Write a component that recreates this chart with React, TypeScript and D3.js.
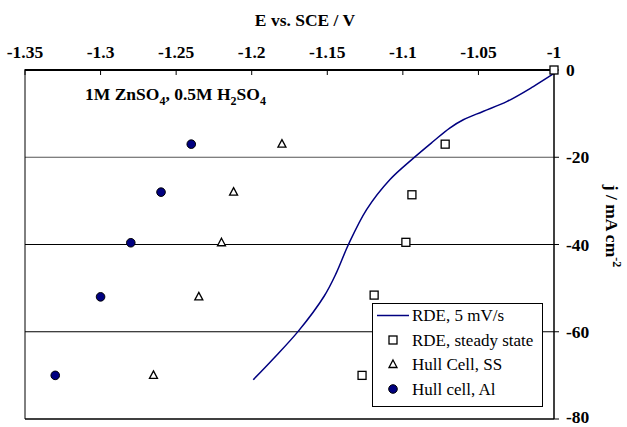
import React from 'react';
import * as d3 from 'd3';

// top axis E (V), right axis j (mA/cm2)
const xTicks = [-1.35, -1.3, -1.25, -1.2, -1.15, -1.1, -1.05, -1];
const yTicks = [0, -20, -40, -60, -80];
const gridLines = [-20, -40, -60];

// RDE sweep at 5 mV/s
const rdeSweep: [number, number][] = [
  [-1.199, -71], [-1.186, -66.3], [-1.169, -59.8], [-1.152, -51.8], [-1.144, -46.5],
  [-1.136, -40], [-1.124, -32], [-1.1085, -25.1], [-1.093, -20.2], [-1.08, -16.4],
  [-1.069, -13.3], [-1.06, -11.4], [-1.047, -9.5], [-1.031, -7.2], [-1.0137, -3.8], [-1.0, -0.8],
];
// RDE steady state
const rdeSteady: [number, number][] = [
  [-1.0, 0], [-1.072, -17], [-1.094, -28.6], [-1.098, -39.5], [-1.119, -51.6], [-1.127, -70],
];
// Hull cell, stainless steel
const hullSS: [number, number][] = [
  [-1.18, -17], [-1.212, -28], [-1.22, -39.6], [-1.235, -52], [-1.265, -70],
];
// Hull cell, aluminium
const hullAl: [number, number][] = [
  [-1.24, -17], [-1.26, -28], [-1.28, -39.6], [-1.3, -52], [-1.33, -70],
];

const legendItems = ['RDE, 5 mV/s', 'RDE, steady state', 'Hull Cell, SS', 'Hull cell, Al'];

const W = 627, H = 427;
const left = 25, right = 554, top = 70, bottom = 419;
const navy = '#000080';
const serif = 'Liberation Serif';
const fs = 17.5;

const Square = ({ x, y }: { x: number; y: number }) =>
  <rect x={x - 4} y={y - 4} width={8} height={8} fill="white" stroke="black" strokeWidth={1.3} />;
const Triangle = ({ x, y }: { x: number; y: number }) =>
  <path d={`M${x},${y - 4.5}L${x + 4},${y + 3}L${x - 4},${y + 3}Z`} fill="white" stroke="black" strokeWidth={1.3} />;
const Dot = ({ x, y }: { x: number; y: number }) =>
  <circle cx={x} cy={y} r={4.3} fill={navy} stroke="black" strokeWidth={1} />;

export default function App() {
  const x = d3.scaleLinear().domain([-1.35, -1]).range([left, right]);
  const y = d3.scaleLinear().domain([-80, 0]).range([bottom, top]);
  const line = d3.line<[number, number]>()
    .x(d => x(d[0]))
    .y(d => y(d[1]))
    .curve(d3.curveCatmullRom);

  const lx = 372.5, ly = 303.5, lw = 170, lh = 103;

  return (
    <svg width={W} height={H} style={{ position: 'absolute', left: 0, top: 0, background: 'white' }}>
      <rect width={W} height={H} fill="white" />
      {/* grid */}
      {gridLines.map(v => (
        <line key={v} x1={left} x2={right} y1={y(v)} y2={y(v)} stroke={v === -20 ? '#555' : 'black'} strokeWidth={1.2} />
      ))}
      {/* frame */}
      <line x1={left} x2={left} y1={top} y2={bottom} stroke="black" strokeWidth={1} />
      <line x1={left} x2={right} y1={bottom} y2={bottom} stroke="black" strokeWidth={1.5} />
      <line x1={right} x2={right} y1={top} y2={bottom} stroke="black" strokeWidth={1.5} />
      <line x1={left} x2={right} y1={top} y2={top} stroke="black" strokeWidth={2} />
      {/* top axis */}
      {xTicks.map(t => (
        <g key={t}>
          <line x1={x(t)} x2={x(t)} y1={top - 1} y2={top + 5} stroke="black" strokeWidth={1} />
          <text x={x(t)} y={58} textAnchor="middle" fontFamily={serif} fontSize={fs} fontWeight="bold">{String(t)}</text>
        </g>
      ))}
      <text x={305} y={26} textAnchor="middle" fontFamily={serif} fontSize={fs} fontWeight="bold">E vs. SCE / V</text>
      {/* right axis */}
      {yTicks.map(t => (
        <g key={t}>
          <line x1={right} x2={right + 5} y1={y(t)} y2={y(t)} stroke="black" strokeWidth={1} />
          <text x={right + 12} y={Math.min(y(t) + 6, 423)} fontFamily={serif} fontSize={fs} fontWeight="bold">{String(t)}</text>
        </g>
      ))}
      <text transform={`translate(606,226) rotate(90)`} textAnchor="middle" fontFamily={serif} fontSize={fs} fontWeight="bold">
        j / mA cm<tspan dy={-7} fontSize={12}>-2</tspan>
      </text>
      {/* annotation */}
      <text x={85} y={100} fontFamily={serif} fontSize={fs} fontWeight="bold">
        1M ZnSO<tspan dy={5} fontSize={12}>4</tspan><tspan dy={-5}>, 0.5M H</tspan>
        <tspan dy={5} fontSize={12}>2</tspan><tspan dy={-5}>SO</tspan>
        <tspan dy={5} fontSize={12}>4</tspan>
      </text>
      {/* data */}
      <path d={line(rdeSweep) || ''} fill="none" stroke={navy} strokeWidth={1.5} />
      {rdeSteady.map((d, i) => <Square key={i} x={x(d[0])} y={y(d[1])} />)}
      {hullSS.map((d, i) => <Triangle key={i} x={x(d[0])} y={y(d[1])} />)}
      {hullAl.map((d, i) => <Dot key={i} x={x(d[0])} y={y(d[1])} />)}
      {/* legend */}
      <rect x={lx} y={ly} width={lw} height={lh} fill="white" stroke="black" strokeWidth={1} />
      {legendItems.map((name, i) => {
        const cy = ly + 12 + i * 24.5;
        const mx = 393;
        return (
          <g key={name}>
            {i === 0 && <line x1={377} x2={409} y1={cy} y2={cy} stroke={navy} strokeWidth={1.5} />}
            {i === 1 && <Square x={mx} y={cy} />}
            {i === 2 && <Triangle x={mx} y={cy} />}
            {i === 3 && <Dot x={mx} y={cy} />}
            <text x={412} y={cy + 5.5} fontFamily={serif} fontSize={17}>{name}</text>
          </g>
        );
      })}
    </svg>
  );
}
